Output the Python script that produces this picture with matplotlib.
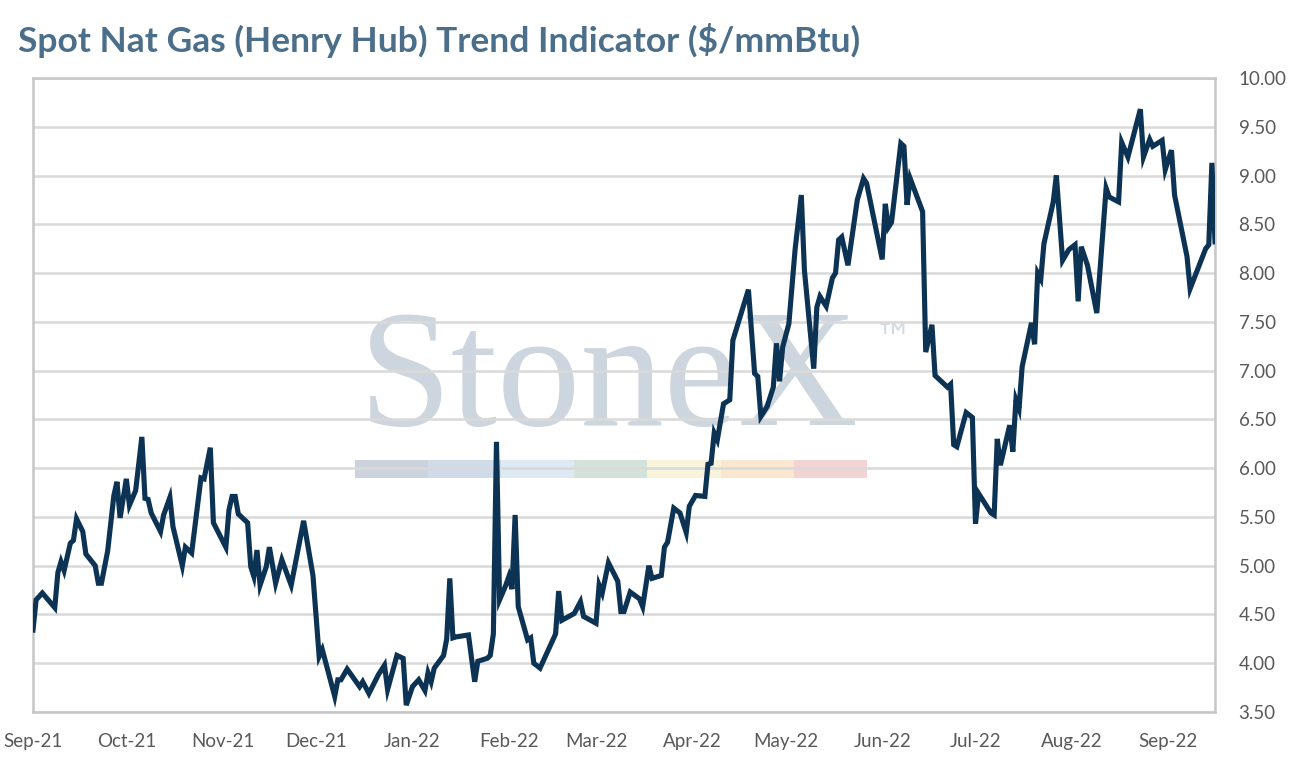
#!/usr/bin/env python3
"""Spot Nat Gas (Henry Hub) trend chart"""
import numpy as np
import pandas as pd
import matplotlib
matplotlib.use("Agg")
import matplotlib.pyplot as plt
import matplotlib.dates as mdates
from matplotlib.patches import Rectangle

# ── data ──────────────────────────────────────────────────
start = pd.Timestamp("2021-09-01")
day_offset = [
    0, 1, 3, 7, 8, 9, 10, 12, 13, 14, 16, 17, 20, 21, 22, 24, 26, 27, 28, 30,
    31, 33, 35, 36, 37, 38, 41, 42, 44, 45, 48, 49, 51, 54, 55, 57, 58, 62, 63, 64,
    65, 66, 69, 70, 71, 72, 73, 75, 76, 78, 80, 83, 87, 90, 92, 93, 97, 98, 99, 101,
    105, 106, 108, 111, 113, 114, 117, 119, 120, 122, 124, 126, 127, 128, 129, 132, 133, 134, 135, 136,
    140, 142, 143, 146, 147, 148, 149, 150, 152, 153, 154, 155, 156, 159, 160, 161, 163, 168, 169, 170,
    174, 176, 177, 181, 182, 183, 185, 188, 189, 190, 192, 195, 196, 198, 199, 202, 203, 204, 206, 208,
    210, 211, 213, 216, 217, 218, 219, 220, 222, 224, 225, 230, 232, 233, 234, 236, 238, 239, 240, 241,
    243, 245, 247, 248, 251, 252, 253, 255, 257, 258, 259, 260, 262, 265, 267, 268, 273, 274, 275, 276,
    279, 280, 281, 282, 286, 287, 289, 290, 294, 295, 296, 297, 300, 302, 303, 304, 308, 309, 310, 311,
    314, 315, 316, 317, 318, 321, 322, 323, 324, 325, 328, 329, 331, 333, 335, 336, 337, 339, 342, 345,
    346, 349, 350, 352, 356, 357, 359, 360, 363, 364, 366, 367, 371, 372, 377, 378, 379, 380,
]
price = [
    4.34, 4.65, 4.72, 4.57, 4.93, 5.04, 4.95, 5.23, 5.26, 5.48, 5.35, 5.12, 5.00, 4.82, 4.82, 5.15, 5.72, 5.86, 5.49, 5.89,
    5.62, 5.77, 6.32, 5.69, 5.68, 5.54, 5.35, 5.52, 5.70, 5.40, 5.00, 5.19, 5.13, 5.90, 5.89, 6.21, 5.44, 5.19, 5.57, 5.71,
    5.71, 5.53, 5.44, 4.99, 4.89, 5.16, 4.80, 4.99, 5.19, 4.82, 5.06, 4.80, 5.46, 4.90, 4.07, 4.14, 3.66, 3.83, 3.83, 3.94,
    3.76, 3.81, 3.69, 3.88, 3.98, 3.73, 4.08, 4.05, 3.57, 3.76, 3.83, 3.72, 3.90, 3.81, 3.95, 4.08, 4.25, 4.87, 4.26, 4.27,
    4.29, 3.81, 4.02, 4.05, 4.08, 4.30, 6.27, 4.65, 4.80, 4.89, 4.76, 5.52, 4.58, 4.24, 4.26, 4.00, 3.95, 4.30, 4.74, 4.44,
    4.51, 4.63, 4.48, 4.41, 4.80, 4.72, 5.03, 4.84, 4.53, 4.53, 4.73, 4.66, 4.58, 5.00, 4.87, 4.90, 5.19, 5.24, 5.59, 5.54,
    5.34, 5.61, 5.72, 5.71, 6.04, 6.05, 6.36, 6.29, 6.66, 6.70, 7.31, 7.83, 6.97, 6.94, 6.53, 6.63, 6.83, 7.28, 6.89, 7.24,
    7.48, 8.24, 8.80, 8.03, 7.02, 7.65, 7.76, 7.66, 7.95, 8.00, 8.34, 8.37, 8.08, 8.75, 8.97, 8.92, 8.14, 8.71, 8.47, 8.52,
    9.33, 9.30, 8.70, 8.97, 8.63, 7.19, 7.47, 6.95, 6.83, 6.86, 6.24, 6.22, 6.57, 6.52, 5.43, 5.74, 5.54, 5.52, 6.30, 6.03,
    6.44, 6.17, 6.70, 6.61, 7.04, 7.49, 7.27, 8.00, 7.94, 8.30, 8.73, 9.00, 8.13, 8.24, 8.29, 7.71, 8.27, 8.08, 7.59, 8.87,
    8.78, 8.73, 9.34, 9.19, 9.68, 9.19, 9.37, 9.30, 9.36, 9.06, 9.26, 8.80, 8.17, 7.84, 8.25, 8.29, 9.13, 8.32,
]
y_ticks = np.arange(3.5, 10.01, 0.5)
end_day = 380

# watermark colour strip
wm_colors = ["#ccd3dc", "#cfdbe8", "#dde9f3", "#d3e3d9", "#f8f4dc", "#f9e7d0", "#f3d4d5"]

dates = start + pd.to_timedelta(day_offset, unit="D")

plt.rcParams["font.family"] = ["Lato", "DejaVu Sans"]

fig = plt.figure(figsize=(12.94, 7.72), dpi=100)
ax = fig.add_axes([33 / 1294, 1 - 712 / 772, (1215 - 33) / 1294, (712 - 78) / 772])

# ── watermark ─────────────────────────────────
ax.text(0.4875, 0.453, "StoneX", transform=ax.transAxes, ha="center", va="baseline",
        fontsize=120, family="Liberation Serif", color="#cdd5de", zorder=0)
ax.text(0.712, 0.585, "™", transform=ax.transAxes, ha="left", va="center",
        fontsize=27, family="DejaVu Sans", color="#d3dae2", zorder=0)
seg_w = 0.4336 / len(wm_colors)
for i, c in enumerate(wm_colors):
    ax.add_patch(Rectangle((0.272 + i * seg_w, 0.369), seg_w, 0.028,
                           transform=ax.transAxes, color=c, lw=0, zorder=0))

# ── line ─────────────────────────────────
ax.plot(dates, price, color="#0c3354", lw=3.7, solid_joinstyle="miter", zorder=3)

ax.set_xlim(start, start + pd.Timedelta(days=end_day))
ax.set_ylim(y_ticks[0], y_ticks[-1])
ax.set_yticks(y_ticks)
ax.set_yticklabels([f"{v:.2f}" for v in y_ticks])
ax.yaxis.tick_right()
ax.xaxis.set_major_locator(mdates.MonthLocator())
ax.xaxis.set_major_formatter(mdates.DateFormatter("%b-%y"))
ax.tick_params(axis="both", length=0, labelsize=13.5, colors="#595959")
ax.tick_params(axis="y", pad=17)
ax.tick_params(axis="x", pad=15)

ax.grid(axis="y", color="#d9d9d9", lw=1.8, zorder=1)
ax.set_axisbelow(True)
for s in ax.spines.values():
    s.set_color("#c6c6c6")
    s.set_linewidth(1.8)

fig.text(18 / 1294, 1 - 40 / 772, "Spot Nat Gas (Henry Hub) Trend Indicator ($/mmBtu)",
         ha="left", va="center", fontsize=25.5, fontweight="bold", color="#4b6f8a")

fig.savefig("out.png", dpi=100)
